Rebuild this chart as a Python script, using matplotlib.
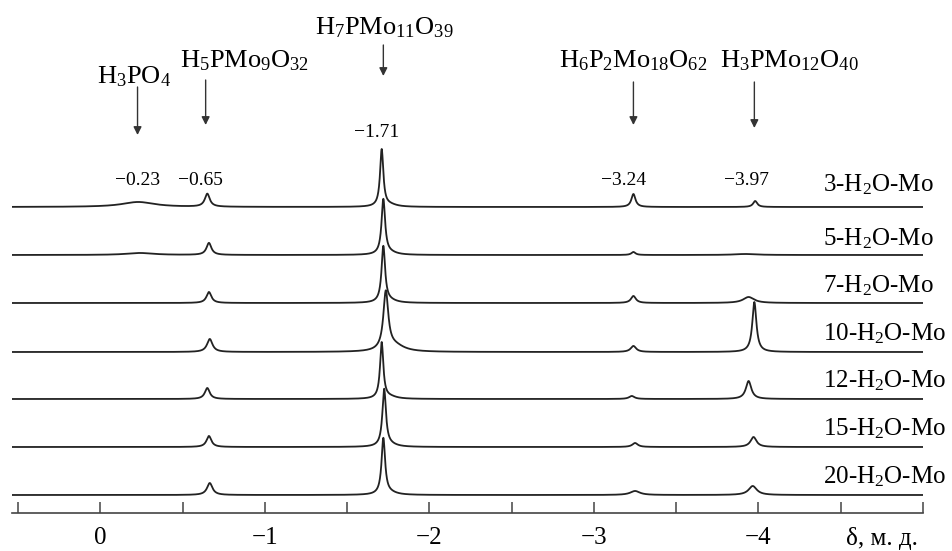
import numpy as np
import matplotlib
matplotlib.use("Agg")
from matplotlib import pyplot as plt
from matplotlib.ticker import FixedLocator, FixedFormatter

# Times-like look for everything, subscripts through mathtext
plt.rcParams['font.family'] = ['Liberation Serif', 'DejaVu Serif']
plt.rcParams['mathtext.fontset'] = 'custom'
plt.rcParams['mathtext.rm'] = 'Liberation Serif'
plt.rcParams['mathtext.it'] = 'Liberation Serif:italic'
plt.rcParams['axes.unicode_minus'] = True

# spectra, top to bottom
labels = ['3-H$_2$O-Mo', '5-H$_2$O-Mo', '7-H$_2$O-Mo', '10-H$_2$O-Mo',
          '12-H$_2$O-Mo', '15-H$_2$O-Mo', '20-H$_2$O-Mo']
offsets = [306, 258, 210, 161, 114, 66, 18]
label_dy = [16, 10, 11, 12, 12, 12, 12]

# peak parameters (position ppm, height, half width)
x_023 = [-0.23, -0.24, -0.23, -0.23, -0.23, -0.23, -0.23]
h_023 = [5, 2, 0, 0, 0, 0, 0]
w_023 = [0.12, 0.10, 0.1, 0.1, 0.1, 0.1, 0.1]

x_065 = [-0.65, -0.66, -0.66, -0.665, -0.65, -0.66, -0.665]
h_065 = [13, 12, 11, 13, 11, 11, 12]
w_065 = [0.018, 0.018, 0.018, 0.02, 0.018, 0.018, 0.02]

x_171 = [-1.71, -1.72, -1.72, -1.735, -1.71, -1.725, -1.72]
h_171 = [57, 55, 56, 58, 56, 57, 56]
w_171 = [0.012, 0.013, 0.013, 0.018, 0.012, 0.013, 0.013]

# tail on the high-field side of the main peak
x_tail = [-1.76, -1.76, -1.76, -1.79, -1.76, -1.76, -1.76]
h_tail = [2, 2, 2, 6, 2, 2, 2]
w_tail = [0.05, 0.05, 0.05, 0.07, 0.05, 0.05, 0.05]

x_324 = [-3.24, -3.24, -3.24, -3.24, -3.23, -3.25, -3.25]
h_324 = [13, 3, 7, 6, 3, 4, 4]
w_324 = [0.015, 0.015, 0.018, 0.02, 0.02, 0.02, 0.035]

x_397 = [-3.98, -3.92, -3.94, -3.975, -3.94, -3.97, -3.965]
h_397 = [6, 1, 6, 50, 18, 10, 9]
w_397 = [0.015, 0.08, 0.04, 0.015, 0.02, 0.022, 0.03]

# compound names with arrow positions
compounds = ['H$_3$PO$_4$', 'H$_5$PMo$_9$O$_{32}$', 'H$_7$PMo$_{11}$O$_{39}$',
             'H$_6$P$_2$Mo$_{18}$O$_{62}$', 'H$_3$PMo$_{12}$O$_{40}$']
comp_x = [-0.207, -0.878, -1.726, -3.238, -4.19]
comp_y = [430, 446, 479, 446, 446]
arrow_x = [-0.226, -0.64, -1.72, -3.24, -3.975]
arrow_top = [426, 433, 468, 431, 431]
arrow_bot = [378, 388, 437, 388, 385]

# chemical shift values written above the top spectrum
shift_text = ['\u22120.23', '\u22120.65', '\u22121.71', '\u22123.24', '\u22123.97']
shift_x = [-0.226, -0.61, -1.677, -3.183, -3.93]
shift_y = [328, 328, 376, 328, 328]

tick_pos = [0, -1, -2, -3, -4]
tick_lab = ['0', '\u22121', '\u22122', '\u22123', '\u22124']


def lorentz(x, x0, h, w):
    return h / (1 + ((x - x0) / w) ** 2)


fig = plt.figure(figsize=(9.52, 5.51), dpi=100)
ax = fig.add_axes([12 / 952, 38 / 551, 911 / 952, 513 / 551])
ax.set_xlim(0.537, -5.0)
ax.set_ylim(0, 513)

x = np.linspace(0.537, -5.0, 4000)
for i in range(len(labels)):
    y = (lorentz(x, x_023[i], h_023[i], w_023[i])
         + lorentz(x, x_065[i], h_065[i], w_065[i])
         + lorentz(x, x_171[i], h_171[i], w_171[i])
         + lorentz(x, x_tail[i], h_tail[i], w_tail[i])
         + lorentz(x, x_324[i], h_324[i], w_324[i])
         + lorentz(x, x_397[i], h_397[i], w_397[i]))
    ax.plot(x, offsets[i] + y, color='#222222', lw=1.3)
    ax.text(-4.39, offsets[i] + label_dy[i], labels[i], fontsize=18,
            ha='left', va='baseline')

for i in range(len(compounds)):
    ax.text(comp_x[i], comp_y[i], compounds[i], fontsize=19,
            ha='center', va='baseline')
    ax.annotate('', xy=(arrow_x[i], arrow_bot[i]), xytext=(arrow_x[i], arrow_top[i]),
                arrowprops=dict(arrowstyle='-|>', color='#333333', lw=1.0,
                                mutation_scale=12, shrinkA=0, shrinkB=0))

for i in range(len(shift_text)):
    ax.text(shift_x[i], shift_y[i], shift_text[i], fontsize=14,
            ha='center', va='baseline')

# only the bottom axis line, ticks pointing up
for s in ['top', 'left', 'right']:
    ax.spines[s].set_visible(False)
ax.spines['bottom'].set_color('#444444')
ax.spines['bottom'].set_linewidth(1.2)
ax.set_yticks([])
ax.xaxis.set_major_locator(FixedLocator(tick_pos))
ax.xaxis.set_major_formatter(FixedFormatter(tick_lab))
ax.xaxis.set_minor_locator(FixedLocator([0.5, -0.5, -1.5, -2.5, -3.5, -4.5, -5.0]))
ax.tick_params(axis='x', which='both', direction='in', length=8, width=1.1,
               color='#444444', labelsize=18, pad=10)
ax.text(-4.75, -26, '\u03b4, \u043c. \u0434.', fontsize=18, ha='center', va='center',
        clip_on=False)

fig.savefig('out.png', dpi=100)
